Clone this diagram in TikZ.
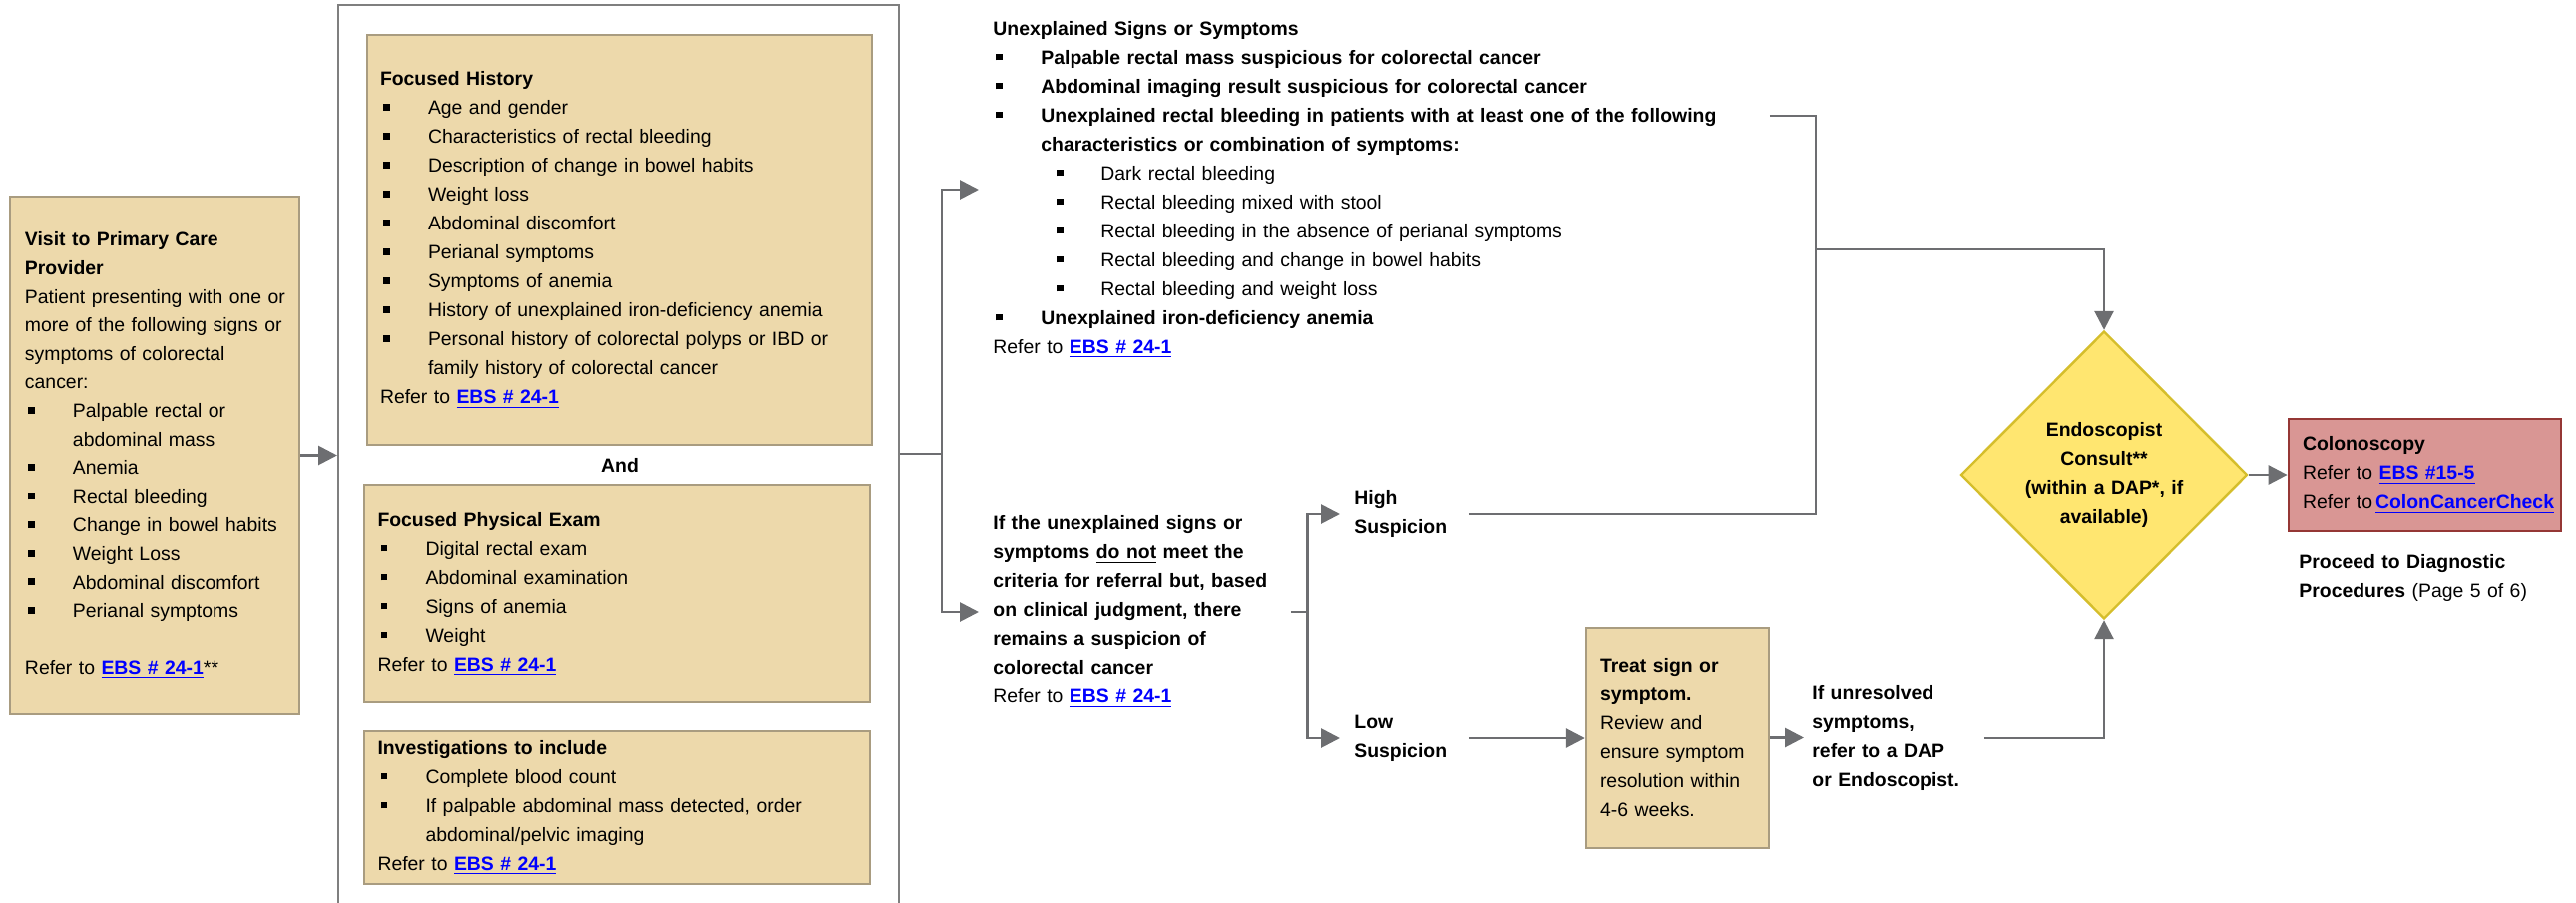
\documentclass[tikz,border=0pt]{standalone}
\usepackage{fontspec}
\setmainfont{Liberation Sans}
\usetikzlibrary{arrows.meta,shapes.geometric}

\definecolor{boxfill}{HTML}{EDD9AB}
\definecolor{boxline}{HTML}{A99C80}
\definecolor{connline}{HTML}{6D6E71}
\definecolor{framegray}{HTML}{7F7F7F}
\definecolor{dapfill}{HTML}{FFE670}
\definecolor{dapline}{HTML}{D5BE2C}
\definecolor{colonfill}{HTML}{D99694}
\definecolor{colonline}{HTML}{953735}
\definecolor{linkblue}{HTML}{0000FF}

\setlength{\parindent}{0pt}
\newcommand{\bul}{\raisebox{2pt}{\rule{3.4pt}{3.4pt}}}
\newcommand{\itm}{\par\hangindent=24pt\noindent\hbox to 24pt{\kern1.5pt\bul\hfil}}
\newcommand{\sitm}{\par\hangindent=54pt\noindent\hbox to 54pt{\kern32pt\bul\hfil}}
\newcommand{\ebs}[1]{\textcolor{linkblue}{\bfseries\underline{#1}}}

\begin{document}
\begin{tikzpicture}
    [x=0.5pt,y=-0.5pt,
     txt/.style={font=\fontsize{9.7}{14.5}\selectfont,align=left},
     bold/.style={font=\fontsize{9.7}{14.5}\selectfont\bfseries},
     box/.style={txt,draw=boxline,fill=boxfill,line width=1.2pt,inner xsep=6.5pt},
     free/.style={txt,inner xsep=7pt,inner ysep=0pt},
     line/.style={draw=connline,line width=1.4pt},
     conn/.style={line,-{Triangle[length=9.5pt,width=9.5pt]}}]
  \useasboundingbox (0,0) rectangle (2582,905);

  % primary care visit
  \node (visit) [box,text width=130pt,inner xsep=7.5pt,minimum width=145pt,minimum height=259.5pt,
    font=\fontsize{9.7}{14.3}\selectfont] at (155,456.5)
    {\textbf{Visit to Primary Care\newline Provider}\par
     \mbox{Patient presenting with one or}\newline \mbox{more of the following signs or}\newline
     symptoms of colorectal\newline cancer:
     \itm Palpable rectal or\newline abdominal mass
     \itm Anemia
     \itm Rectal bleeding
     \itm Change in bowel habits
     \itm Weight Loss
     \itm Abdominal discomfort
     \itm Perianal symptoms
     \par\vspace{14.3pt}
     Refer to \ebs{EBS \# 24-1}**};

  % history, exam, investigations
  \node (frame) [draw=framegray,line width=1pt,minimum width=281pt,minimum height=457.5pt] at (620,462.5) {};
  \node (hist) [box,text width=240pt,minimum width=253pt,minimum height=205.5pt] at (621,240.5)
    {\textbf{Focused History}
     \itm Age and gender
     \itm Characteristics of rectal bleeding
     \itm Description of change in bowel habits
     \itm Weight loss
     \itm Abdominal discomfort
     \itm Perianal symptoms
     \itm Symptoms of anemia
     \itm History of unexplained iron-deficiency anemia
     \itm Personal history of colorectal polyps or IBD or\newline family history of colorectal cancer
     \par Refer to \ebs{EBS \# 24-1}};
  \node (and) [txt,bold] at (621,467) {And};
  \node (phys) [box,text width=240pt,minimum width=253.5pt,minimum height=109pt] at (618.5,595)
    {\textbf{Focused Physical Exam}
     \itm Digital rectal exam
     \itm Abdominal examination
     \itm Signs of anemia
     \itm Weight
     \par Refer to \ebs{EBS \# 24-1}};
  \node (invest) [box,text width=240pt,minimum width=253.5pt,minimum height=76.5pt] at (618.5,809.5)
    {\textbf{Investigations to include}
     \itm Complete blood count
     \itm If palpable abdominal mass detected, order\newline abdominal/pelvic imaging
     \par Refer to \ebs{EBS \# 24-1}};

  % referral criteria
  \node (unexpl) [free,text width=382pt,anchor=west] at (981,190)
    {\textbf{Unexplained Signs or Symptoms}
     \itm\textbf{Palpable rectal mass suspicious for colorectal cancer}
     \itm\textbf{Abdominal imaging result suspicious for colorectal cancer}
     \itm\textbf{Unexplained rectal bleeding in patients with at least one of the following\newline
       characteristics or combination of symptoms:}
     \sitm Dark rectal bleeding
     \sitm Rectal bleeding mixed with stool
     \sitm Rectal bleeding in the absence of perianal symptoms
     \sitm Rectal bleeding and change in bowel habits
     \sitm Rectal bleeding and weight loss
     \itm\textbf{Unexplained iron-deficiency anemia}
     \par Refer to \ebs{EBS \# 24-1}};
  \node (notmeet) [free,text width=142pt,anchor=west] at (981,613)
    {\textbf{If the unexplained signs or\newline symptoms \underline{do not} meet the\newline
     criteria for referral but, based\newline on clinical judgment, there\newline
     remains a suspicion of\newline colorectal cancer}\par
     Refer to \ebs{EBS \# 24-1}};
  \node (high) [free,bold,text width=50pt,anchor=west] at (1343,515) {High\newline Suspicion};
  \node (low) [free,bold,text width=50pt,anchor=west] at (1343,740) {Low\newline Suspicion};
  \node (treat) [box,text width=77.5pt,inner xsep=7pt,minimum width=91.5pt,minimum height=110.5pt] at (1681.5,739.5)
    {\textbf{Treat sign or\newline symptom.}\newline Review and\newline ensure symptom\newline
     resolution within\newline 4-6 weeks.};
  \node (unres) [free,bold,inner xsep=4pt,text width=82pt,anchor=west] at (1808,740)
    {If unresolved\newline symptoms,\newline refer to a DAP\newline or Endoscopist.};

  % consult and colonoscopy
  \node (consult) [diamond,draw=dapline,fill=dapfill,line width=1.2pt,inner sep=0pt,
    minimum width=143.5pt,minimum height=144pt,bold,align=center,text width=82pt] at (2109,476)
    {Endoscopist\\Consult**\\(within a DAP*, if\\available)};
  \node (colon) [txt,draw=colonline,fill=colonfill,line width=1.4pt,inner xsep=7pt,
    text width=122.5pt,minimum width=136.5pt,minimum height=56pt] at (2430.5,476)
    {\textbf{Colonoscopy}\par
     Refer to\ \ebs{EBS \#15-5}\par
     \mbox{Refer to\kern1.5pt\ebs{ColonCancerCheck}}};
  \node (proceed) [txt,inner sep=0pt,anchor=north west,text width=140pt] at (2304,555)
    {\textbf{Proceed to Diagnostic\newline Procedures} (Page 5 of 6)};

  % connectors
  \coordinate (split1) at (944,455);
  \coordinate (toprow) at (1820,116);
  \coordinate (merge) at (1820,250);
  \draw[conn] (visit.east) -- (visit.east -| frame.west);
  \draw[line] (frame.east |- split1) -- (split1);
  \draw[conn] (split1) |- (unexpl.west);
  \draw[conn] (split1) |- (notmeet.west);
  \draw[line] (unexpl.east |- toprow) -- (toprow) -- (merge);
  \draw[line] (high.east) -| (merge);
  \draw[conn] (merge) -| (consult.north);
  \draw[line] (notmeet.east) -- ++(17,0) coordinate (split2);
  \draw[conn] (split2) |- (high.west);
  \draw[conn] (split2) |- (low.west);
  \draw[conn] (low.east) -- (low.east -| treat.west);
  \draw[conn] (treat.east) -- (treat.east -| unres.west);
  \draw[conn] (unres.east) -| (consult.south);
  \draw[conn] (consult.east) -- (colon.west);
\end{tikzpicture}
\end{document}
